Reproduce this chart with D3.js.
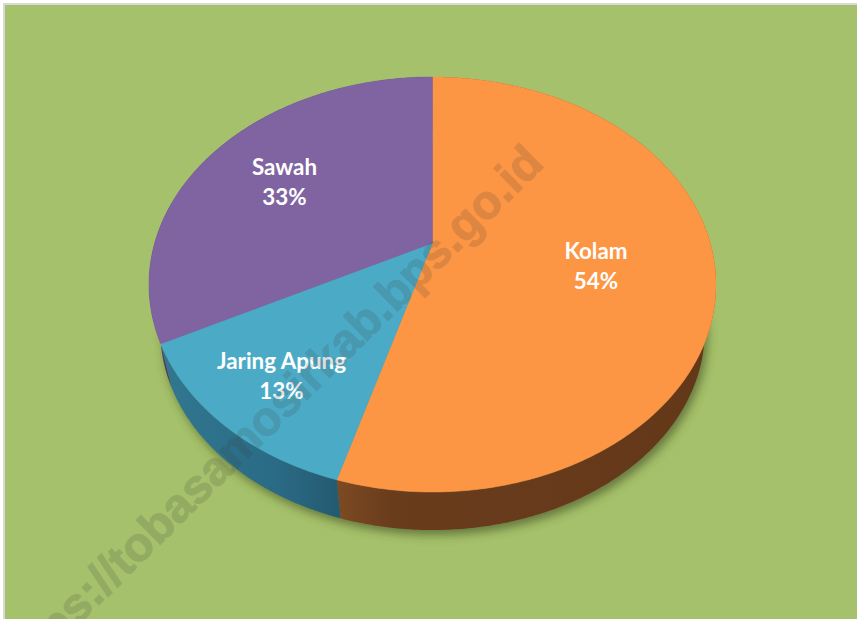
<!DOCTYPE html>
<html>
<head>
<meta charset="utf-8">
<title>Pie</title>
<script src="https://cdn.jsdelivr.net/npm/d3@7.9.0/dist/d3.min.js"></script>
<style>
  html, body { margin: 0; padding: 0; background: #fff; }
  svg { display: block; }
  .label { font-family: Lato, "Open Sans", sans-serif; font-weight: 700; font-size: 22.4px; fill: #fff; text-anchor: middle; }
  .watermark { font-family: "Liberation Sans", Arial, sans-serif; font-weight: 700; font-size: 47.5px; fill: #3a3a3a; stroke: #3a3a3a; stroke-width: 1.2px; opacity: 0.16; }
</style>
</head>
<body>
<svg id="chart" width="857" height="619"></svg>
<script>
const categories = ['Kolam', 'Jaring Apung', 'Sawah'];
const shares = [54.49, 12.91, 32.6];
const topColors = ['#fd9644', '#4babc6', '#8064a2'];
const wallColors = [
  ['#7d4a22', '#693c1c', '#633819'],
  ['#245a70', '#2a6a85', '#31788f'],
  ['#4d3a66', '#4d3a66', '#4d3a66'],
];
// label centres relative to the pie apex
const labelOffsets = [[163.5, 9], [-151, 119], [-148, -75]];

const chartWidth = 857;
const chartHeight = 619;

// projective view of the tilted disc: the near edge comes out bigger than the far one
const apex = { x: 432.5, y: 243 };
const tilt = 0.2;
const radiusX = 277.8;
const radiusY = 199.2;
const wallScale = 0.96;
const wallDrop = 48;

function project(angle, depth) {
  const u = Math.sin(angle);
  const v = Math.cos(angle);
  const w = 1 + tilt * v;
  const s = depth ? wallScale : 1;
  return [
    apex.x + (s * radiusX * u) / w,
    apex.y - (s * radiusY * v) / w + (depth ? wallDrop : 0),
  ];
}

function rim(start, end, depth) {
  const n = Math.max(2, Math.ceil((end - start) / 0.01));
  return d3.range(n + 1).map((i) => project(start + ((end - start) * i) / n, depth));
}

const svg = d3.select('#chart');
const defs = svg.append('defs');

defs.append('filter').attr('id', 'wallShadow')
  .attr('x', '-10%').attr('y', '-10%').attr('width', '120%').attr('height', '120%')
  .append('feGaussianBlur').attr('stdDeviation', 5);

svg.append('rect').attr('width', chartWidth).attr('height', chartHeight).attr('fill', '#fff');
svg.append('rect').attr('x', 3).attr('y', 3).attr('width', chartWidth - 3).attr('height', chartHeight - 3).attr('fill', '#d9d9d9');
svg.append('rect').attr('x', 5).attr('y', 5).attr('width', chartWidth - 5).attr('height', chartHeight - 5).attr('fill', '#a5c16b');

const slices = d3.pie().sort(null).value((d) => d)(shares);
const pathLine = d3.line();

// shadow only comes from the lower rim, so it never shows above the wall
svg.append('path')
  .attr('d', pathLine(rim(0, 2 * Math.PI, true)) + 'Z')
  .attr('transform', 'translate(3,5)')
  .attr('fill', '#3c4a20')
  .attr('fill-opacity', 0.6)
  .attr('filter', 'url(#wallShadow)');

const walls = svg.append('g');
slices.forEach((d, i) => {
  const outline = rim(d.startAngle, d.endAngle, false).concat(rim(d.startAngle, d.endAngle, true).reverse());
  const xs = d3.extent(outline, (p) => p[0]);
  // the shading runs away from the seam, so the gradient direction follows the slice
  const grad = defs.append('linearGradient').attr('id', `wall${i}`)
    .attr('gradientUnits', 'userSpaceOnUse')
    .attr('x1', i === 0 ? xs[0] : xs[1]).attr('x2', i === 0 ? xs[1] : xs[0])
    .attr('y1', 0).attr('y2', 0);
  const stops = i === 0 ? [0, 0.15, 1] : [0, 0.35, 1];
  wallColors[i].forEach((c, k) => {
    grad.append('stop').attr('offset', stops[k]).attr('stop-color', c);
  });
  walls.append('path')
    .attr('d', pathLine(outline) + 'Z')
    .attr('fill', `url(#wall${i})`);
});

const faces = svg.append('g');
slices.forEach((d, i) => {
  const outline = [[apex.x, apex.y]].concat(rim(d.startAngle, d.endAngle, false));
  faces.append('path')
    .attr('d', pathLine(outline) + 'Z')
    .attr('fill', topColors[i])
    .attr('stroke', topColors[i])
    .attr('stroke-width', 0.5);
});

const fmt = d3.format('.0f');
const labels = svg.append('g');
categories.forEach((name, i) => {
  const [dx, dy] = labelOffsets[i];
  const text = labels.append('text').attr('class', 'label')
    .attr('transform', `translate(${apex.x + dx},${apex.y + dy})`);
  text.append('tspan').attr('x', 0).attr('y', 7).text(name);
  text.append('tspan').attr('x', 0).attr('y', 37).text(`${fmt(shares[i])}%`);
});

svg.append('text').attr('class', 'watermark')
  .attr('transform', 'translate(13,689) rotate(-44.5)')
  .text('https://tobasamosirkab.bps.go.id');
</script>
</body>
</html>
